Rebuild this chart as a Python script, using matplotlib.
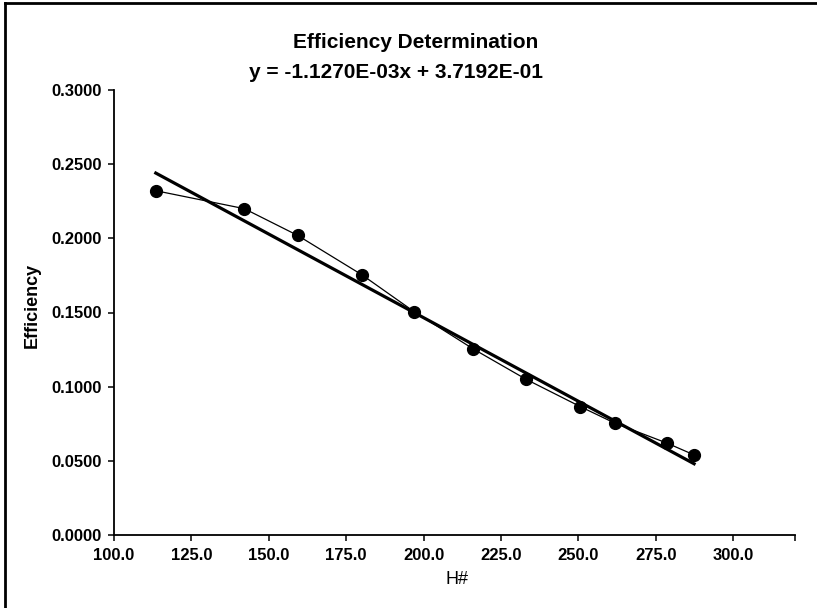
import numpy as np
import matplotlib
matplotlib.use('Agg')
from matplotlib import pyplot as plt
from matplotlib.lines import Line2D

# data
h_num = [113.5, 142.1, 159.3, 180.1, 197.0, 216.0, 233.1, 250.6, 261.8, 278.7, 287.4]
efficiency = [0.2321, 0.2200, 0.2020, 0.1754, 0.1505, 0.1255, 0.1050, 0.0866, 0.0754, 0.0619, 0.0540]

# linear trendline given on the chart
slope = -1.1270E-03
intercept = 3.7192E-01

x_ticks = [100, 125, 150, 175, 200, 225, 250, 275, 300]
y_ticks = [0.0, 0.05, 0.10, 0.15, 0.20, 0.25, 0.30]

plt.rcParams['font.family'] = ['Liberation Sans', 'DejaVu Sans']

W, H = 817, 608
fig = plt.figure(figsize=(W / 100, H / 100), dpi=100)
ax = fig.add_axes([114 / W, 1 - 535 / H, (795 - 114) / W, (535 - 90) / H])

ax.plot(h_num, efficiency, color='black', lw=0.9, marker='o', ms=8.5, zorder=3)

x_fit = np.array([h_num[0], h_num[-1]])
ax.plot(x_fit, slope * x_fit + intercept, color='black', lw=2.3, zorder=2)

ax.set_xlim(100, 320)
ax.set_ylim(0, 0.3)
ax.set_xticks(x_ticks + [320])
ax.set_xticklabels(['%.1f' % t for t in x_ticks] + [''])
ax.set_yticks(y_ticks)
ax.set_yticklabels(['%.4f' % t for t in y_ticks])
for s in ['top', 'right']:
    ax.spines[s].set_visible(False)
for s in ['left', 'bottom']:
    ax.spines[s].set_linewidth(1.3)
ax.tick_params(direction='out', length=4, width=1.1, labelsize=12, pad=5)
for lab in ax.get_xticklabels() + ax.get_yticklabels():
    lab.set_fontweight('bold')

fig.text(416 / W, 1 - 42 / H, 'Efficiency Determination', ha='center', va='center',
         fontsize=15, fontweight='bold')
fig.text(396 / W, 1 - 73 / H, 'y = -1.1270E-03x + 3.7192E-01', ha='center', va='center',
         fontsize=15, fontweight='bold')
fig.text(457 / W, 1 - 580 / H, 'H#', ha='center', va='center', fontsize=13)
fig.text(32 / W, 1 - 305 / H, 'Efficiency', ha='center', va='center', rotation=90,
         fontsize=13, fontweight='bold')

# scanned page border
fig.add_artist(Line2D([5 / W, 5 / W], [0, 1 - 3 / H], color='black', lw=2, transform=fig.transFigure))
fig.add_artist(Line2D([5 / W, 1], [1 - 3 / H, 1 - 3 / H], color='black', lw=2, transform=fig.transFigure))

fig.savefig('out.png', dpi=100)
